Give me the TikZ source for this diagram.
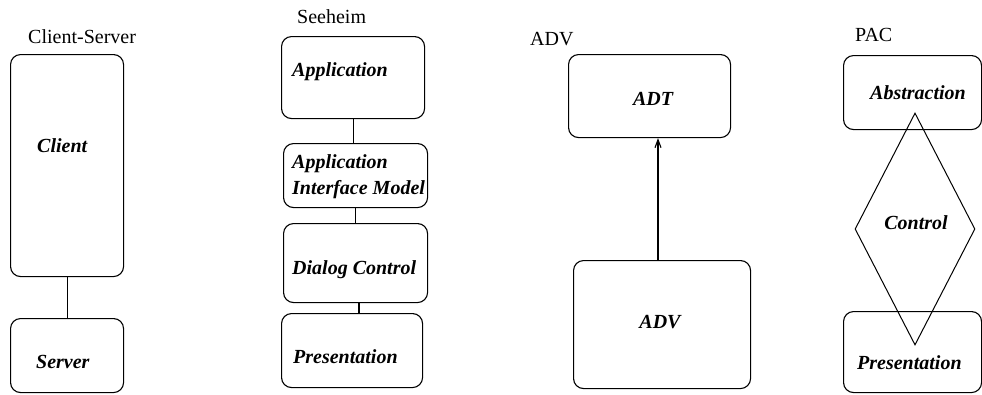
\documentclass[tikz,border=0pt]{standalone}
\usepackage{fontspec}
\setmainfont{Liberation Serif}
\usetikzlibrary{shapes.geometric,arrows.meta}
\begin{document}
\begin{tikzpicture}[x=1bp,y=-1bp,
  box/.style={draw, rounded corners=10bp, line width=1.1bp, inner sep=0pt, anchor=north west},
  lbl/.style={font=\fontsize{20bp}{24bp}\selectfont\bfseries\itshape, inner sep=0pt, text height=13bp, text depth=0pt},
  title/.style={font=\fontsize{20bp}{24bp}\selectfont, inner sep=0pt, text height=13bp, text depth=0pt, anchor=west},
  link/.style={line width=1.1bp}]
\useasboundingbox (0,0) rectangle (982,394);

% Client-Server
\node[title] (tcs) at (28,37) {Client-Server};
\node[box, minimum width=113bp, minimum height=222bp] (client) at (10,54) {};
\node[box, minimum width=113bp, minimum height=74bp] (server) at (10,318) {};
\node[lbl, anchor=west] (lclient) at (37,146) {Client};
\node[lbl, anchor=west] (lserver) at (36,362) {Server};
\draw[link] (client.south) -- (server.north);

% Seeheim
\node[title] (tsee) at (297,17) {Seeheim};
\node[box, minimum width=143bp, minimum height=82bp] (app) at (281,36) {};
\node[box, minimum width=144bp, minimum height=64bp] (aim) at (283,143) {};
\node[box, minimum width=144bp, minimum height=79bp] (dlg) at (283,223) {};
\node[box, minimum width=141bp, minimum height=74bp] (pres) at (281,313) {};
\node[lbl, anchor=west] (lapp) at (292,70) {Application};
\node[lbl, anchor=west] (laimA) at (292,162) {Application};
\node[lbl, anchor=west] (laimB) at (292,188) {Interface Model};
\node[lbl, anchor=west] (ldlg) at (292,268) {Dialog Control};
\node[lbl, anchor=west] (lpres) at (293,357) {Presentation};
\draw[link] (app.south) -- (app.south |- aim.north);
\draw[link] (aim.south) -- (aim.south |- dlg.north);
\coordinate (dpx) at (359,0);
\draw[link] (dlg.south -| dpx) -- (pres.north -| dpx);

% ADV
\node[title] (tadv) at (530,39) {ADV};
\node[box, minimum width=162bp, minimum height=83bp] (adt) at (568,54) {};
\node[box, minimum width=177bp, minimum height=128bp] (adv) at (573,260) {};
\node[lbl] (ladt) at (653,99) {ADT};
\node[lbl] (ladv) at (660,322) {ADV};
\coordinate (arx) at (658,0);
\draw[link, -{Straight Barb[length=8bp,width=6bp]}] (adv.north -| arx) -- (adt.south -| arx);

% PAC
\node[title] (tpac) at (855,35) {PAC};
\node[box, minimum width=138bp, minimum height=74bp] (abs) at (843,55) {};
\node[box, minimum width=138bp, minimum height=81bp] (ppres) at (843,311) {};
\node[draw, diamond, line width=1bp, minimum width=120bp, minimum height=232bp, inner sep=0pt] (ctrl) at (915,229) {};
\node[lbl] (labs) at (918,93) {Abstraction};
\node[lbl] (lctrl) at (916,223) {Control};
\node[lbl, anchor=west] (lppres) at (857,363) {Presentation};
\end{tikzpicture}
\end{document}
